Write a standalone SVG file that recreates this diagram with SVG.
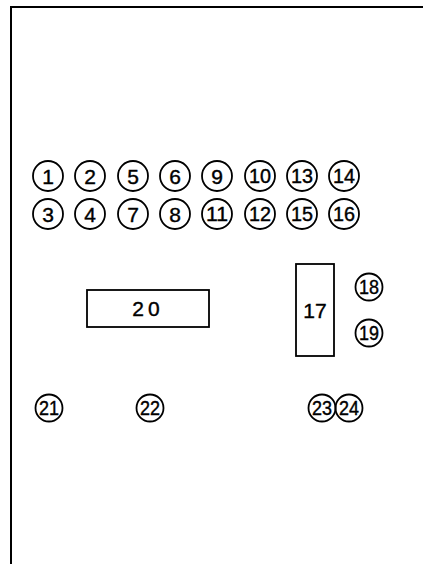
<svg xmlns="http://www.w3.org/2000/svg" width="423" height="564" viewBox="0 0 423 564">
<style>
.c{fill:none;stroke:#000;stroke-width:1.8}
.t{font-family:"Liberation Sans","DejaVu Sans",sans-serif;font-size:21px;text-anchor:middle;fill:#000;stroke:#000;stroke-width:0.4}
.t2{font-family:"Liberation Sans","DejaVu Sans",sans-serif;font-size:20px;text-anchor:middle;fill:#000;stroke:#000;stroke-width:0.4}
.r{fill:none;stroke:#000;stroke-width:1.8}
.b{fill:none;stroke:#000;stroke-width:2}
</style>
<rect width="423" height="564" fill="#fff"/>
<g id="frame"><path class="b" d="M423 7 H11 V564"/></g>
<g id="n1"><circle class="c" cx="48" cy="176" r="15"/><text class="t" x="48" y="183.5">1</text></g>
<g id="n2"><circle class="c" cx="90" cy="176" r="15"/><text class="t" x="90" y="183.5">2</text></g>
<g id="n5"><circle class="c" cx="133" cy="176" r="15"/><text class="t" x="133" y="183.5">5</text></g>
<g id="n6"><circle class="c" cx="175" cy="176" r="15"/><text class="t" x="175" y="183.5">6</text></g>
<g id="n9"><circle class="c" cx="217" cy="176" r="15"/><text class="t" x="217" y="183.5">9</text></g>
<g id="n10"><circle class="c" cx="260" cy="176" r="15"/><text class="t2" x="260" y="183" textLength="22" lengthAdjust="spacingAndGlyphs">10</text></g>
<g id="n13"><circle class="c" cx="302" cy="176" r="15"/><text class="t2" x="302" y="183" textLength="22" lengthAdjust="spacingAndGlyphs">13</text></g>
<g id="n14"><circle class="c" cx="344" cy="176" r="15"/><text class="t2" x="344" y="183" textLength="22" lengthAdjust="spacingAndGlyphs">14</text></g>
<g id="n3"><circle class="c" cx="48" cy="214" r="15"/><text class="t" x="48" y="221.5">3</text></g>
<g id="n4"><circle class="c" cx="90" cy="214" r="15"/><text class="t" x="90" y="221.5">4</text></g>
<g id="n7"><circle class="c" cx="133" cy="214" r="15"/><text class="t" x="133" y="221.5">7</text></g>
<g id="n8"><circle class="c" cx="175" cy="214" r="15"/><text class="t" x="175" y="221.5">8</text></g>
<g id="n11"><circle class="c" cx="217" cy="214" r="15"/><text class="t2" x="217" y="221" textLength="22" lengthAdjust="spacingAndGlyphs">11</text></g>
<g id="n12"><circle class="c" cx="260" cy="214" r="15"/><text class="t2" x="260" y="221" textLength="22" lengthAdjust="spacingAndGlyphs">12</text></g>
<g id="n15"><circle class="c" cx="302" cy="214" r="15"/><text class="t2" x="302" y="221" textLength="22" lengthAdjust="spacingAndGlyphs">15</text></g>
<g id="n16"><circle class="c" cx="344" cy="214" r="15"/><text class="t2" x="344" y="221" textLength="22" lengthAdjust="spacingAndGlyphs">16</text></g>
<g id="n20"><rect class="r" x="87" y="290" width="122" height="37"/><text class="t" x="148" y="316" style="letter-spacing:4px">20</text></g>
<g id="n17"><rect class="r" x="296" y="264" width="38" height="92"/><text class="t" x="315" y="318">17</text></g>
<g id="n18"><circle class="c" cx="369" cy="287" r="13.5"/><text class="t2" x="369" y="294" textLength="20" lengthAdjust="spacingAndGlyphs">18</text></g>
<g id="n19"><circle class="c" cx="369" cy="333" r="13.5"/><text class="t2" x="369" y="340" textLength="20" lengthAdjust="spacingAndGlyphs">19</text></g>
<g id="n21"><circle class="c" cx="49" cy="408" r="13.5"/><text class="t2" x="49" y="415" textLength="20" lengthAdjust="spacingAndGlyphs">21</text></g>
<g id="n22"><circle class="c" cx="150" cy="408" r="13.5"/><text class="t2" x="150" y="415" textLength="20" lengthAdjust="spacingAndGlyphs">22</text></g>
<g id="n23"><circle class="c" cx="322" cy="408" r="13.5"/><text class="t2" x="322" y="415" textLength="20" lengthAdjust="spacingAndGlyphs">23</text></g>
<g id="n24"><circle class="c" cx="349" cy="408" r="13.5"/><text class="t2" x="349" y="415" textLength="20" lengthAdjust="spacingAndGlyphs">24</text></g>
<g id="connectors"></g>
</svg>
